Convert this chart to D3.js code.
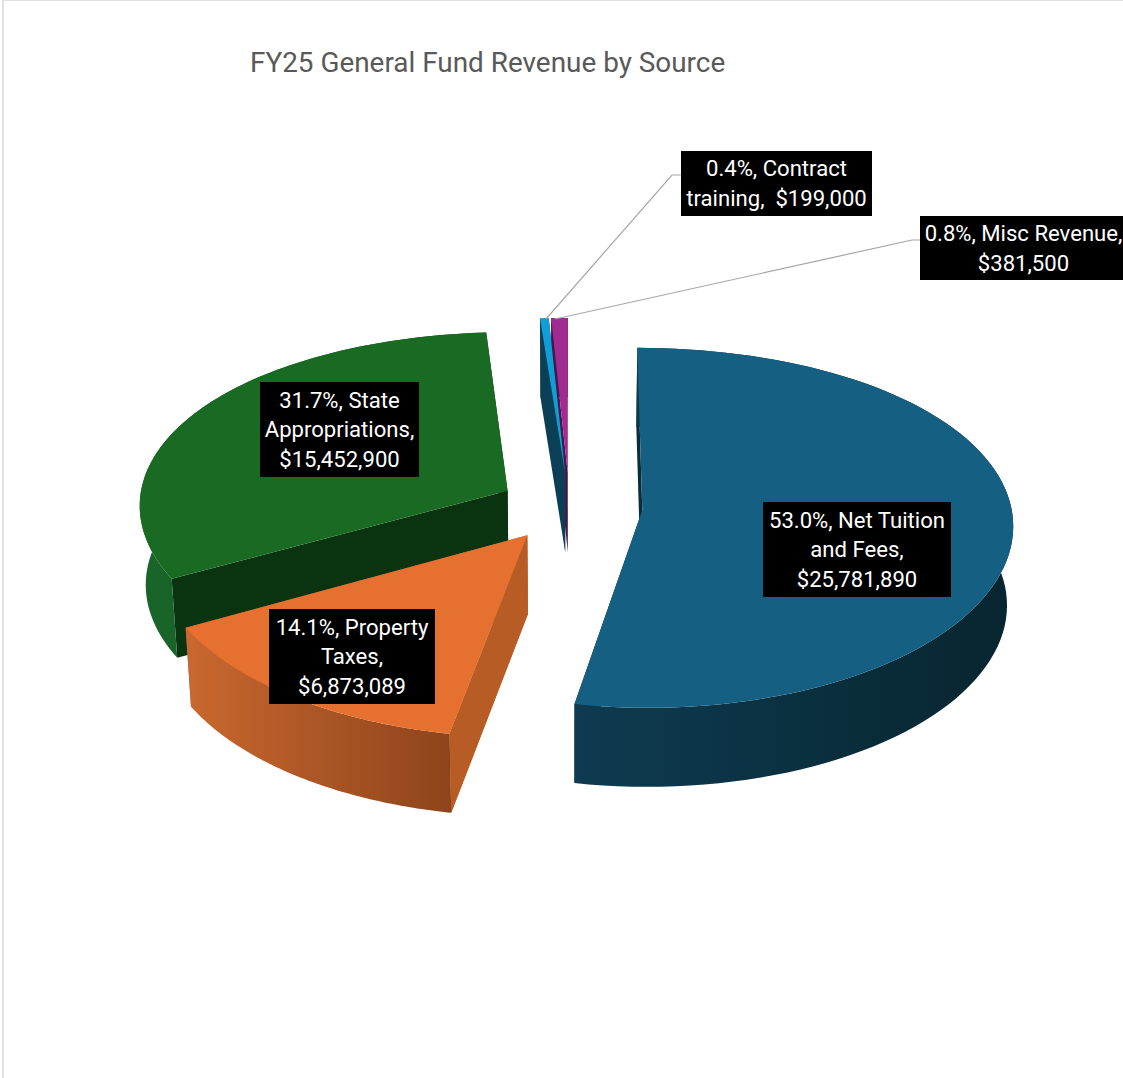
<!DOCTYPE html>
<html><head><meta charset="utf-8">
<script src="https://cdn.jsdelivr.net/npm/d3@7/dist/d3.min.js"></script>
<style>html,body{margin:0;padding:0;background:#fff;overflow:hidden}svg{display:block}</style>
</head><body><svg id="c" width="1123" height="1078"></svg>
<script>
const categories = ["Net Tuition and Fees","Property Taxes","State Appropriations","Contract training","Misc Revenue"];
const revenue = [25781890,6873089,15452900,199000,381500];
const percentLabels = ["53.0%","14.1%","31.7%","0.4%","0.8%"];
const labelLines = [
  ["53.0%, Net Tuition","and Fees,","$25,781,890"],
  ["14.1%, Property","Taxes,","$6,873,089"],
  ["31.7%, State","Appropriations,","$15,452,900"],
  ["0.4%, Contract","training,  $199,000"],
  ["0.8%, Misc Revenue,","$381,500"]
];
const topColors = ["#156082","#E6702F","#196B24","#0F9ED5","#A02B93"];
const wallLeft = ["#0e3b51","#c9682f","#19662a","#0a3f55","#4a1444"];
const wallRight = ["#07252f","#8e441b","#0f4d18","#0a3f55","#4a1444"];
const cutColors = ["#0a2c3d","#b85c25","#0a3410","#0a3f55","#4d1547"];
const explodeBy = [73,71,71,71,71];
const labelBoxes = [[763,502,188,95],[269,609,166,95],[260,382,159,95],[681,151,191,65],[920,216,207,64]];
const leaders = [null,null,null,[[546,319],[672,175],[681,175]],[[555,319],[912,240],[920,240]]];

const svg = d3.select("#c");
const defs = svg.append("defs");
svg.append("rect").attr("x",3).attr("y",0).attr("width",1125).attr("height",1085).attr("fill","#fff").attr("stroke","#d9d9d9").attr("stroke-width",1.5);
svg.append("text").attr("x",250).attr("y",72).attr("font-family","Roboto, sans-serif").attr("font-size",27.9).attr("fill","#595959").text("FY25 General Fund Revenue by Source");

const cx=569.5, persp=0.0002, depth=79, bottomShrink=0.014;
const R = d3.scaleLinear().domain([0,1]).range([0,369]);
// perspective of the tilted plane: near points spread further apart on screen
const planeY = Y => 507 + 0.486*Y + 0.0001286*Y*Y;
function project(X,Y,low){
  const s=(1/(1-persp*Y))*(low?1-bottomShrink:1);
  return [cx+X*s, planeY(Y)+(low?depth:0)];
}
const arcs = d3.pie().sort(null).value(d=>d).startAngle(0).endAngle(2*Math.PI)(revenue);
const line = d3.line();
const slices = arcs.map((a,i)=>{
  const mid=(a.startAngle+a.endAngle)/2;
  const ox=explodeBy[i]*Math.sin(mid), oy=-explodeBy[i]*Math.cos(mid);
  const rim=d3.range(0,91).map(j=>{
    const t=a.startAngle+(a.endAngle-a.startAngle)*j/90;
    return [ox+R(1)*Math.sin(t), oy-R(1)*Math.cos(t)];
  });
  return {i,a,ox,oy,rim};
});
const order=[4,3,2,1,0];
const pts=(arr,low)=>arr.map(p=>project(p[0],p[1],low));
order.forEach(idx=>{
  const s=slices[idx];
  const c=[s.ox,s.oy], first=s.rim[0], last=s.rim[s.rim.length-1];
  const faces=[
    {y:(c[1]+first[1])/2, d:[[c,false],[first,false],[first,true],[c,true]], fill:cutColors[idx]},
    {y:(c[1]+last[1])/2, d:[[c,false],[last,false],[last,true],[c,true]], fill:cutColors[idx]},
  ];
  const g=svg.append("g").attr("class","slice").attr("data-category",categories[idx]);
  const top=pts(s.rim,false), low=pts(s.rim,true);
  const ext=d3.extent(top.concat(low),p=>p[0]);
  const id="wall"+idx;
  const grad=defs.append("linearGradient").attr("id",id).attr("gradientUnits","userSpaceOnUse")
    .attr("x1",ext[0]).attr("x2",ext[1]).attr("y1",0).attr("y2",0);
  grad.append("stop").attr("offset",0).attr("stop-color",wallLeft[idx]);
  grad.append("stop").attr("offset",1).attr("stop-color",wallRight[idx]);
  const wallPath=line(top.concat(low.slice().reverse()))+"Z";
  const fsorted=faces.slice().sort((a,b)=>a.y-b.y);
  const drawFace=f=>g.append("path").attr("d",line(f.d.map(q=>project(q[0][0],q[0][1],q[1])))+"Z").attr("fill",f.fill);
  fsorted.forEach(drawFace);
  g.append("path").attr("d",wallPath).attr("fill",`url(#${id})`);
  if(idx===1) drawFace(fsorted[1]);
  g.append("path").attr("d",line([project(c[0],c[1],false)].concat(top))+"Z").attr("fill",topColors[idx]);
});
leaders.forEach(l=>{ if(l) svg.append("path").attr("d",line(l)).attr("fill","none").attr("stroke","#a6a6a6").attr("stroke-width",1.2); });
const fs=22.1, lh=29.6;
labelLines.forEach((lines,i)=>{
  const b=labelBoxes[i];
  svg.append("rect").attr("x",b[0]).attr("y",b[1]).attr("width",b[2]).attr("height",b[3]).attr("fill","#000");
  const startY=b[1]+b[3]/2-(lines.length-1)*lh/2;
  lines.forEach((t,j)=>{
    svg.append("text").attr("x",b[0]+b[2]/2).attr("y",startY+j*lh).attr("dy","0.35em")
      .attr("text-anchor","middle").attr("font-family","Roboto, sans-serif").attr("font-size",fs)
      .attr("fill","#fff").style("white-space","pre").text(t);
  });
});
</script></body></html>
